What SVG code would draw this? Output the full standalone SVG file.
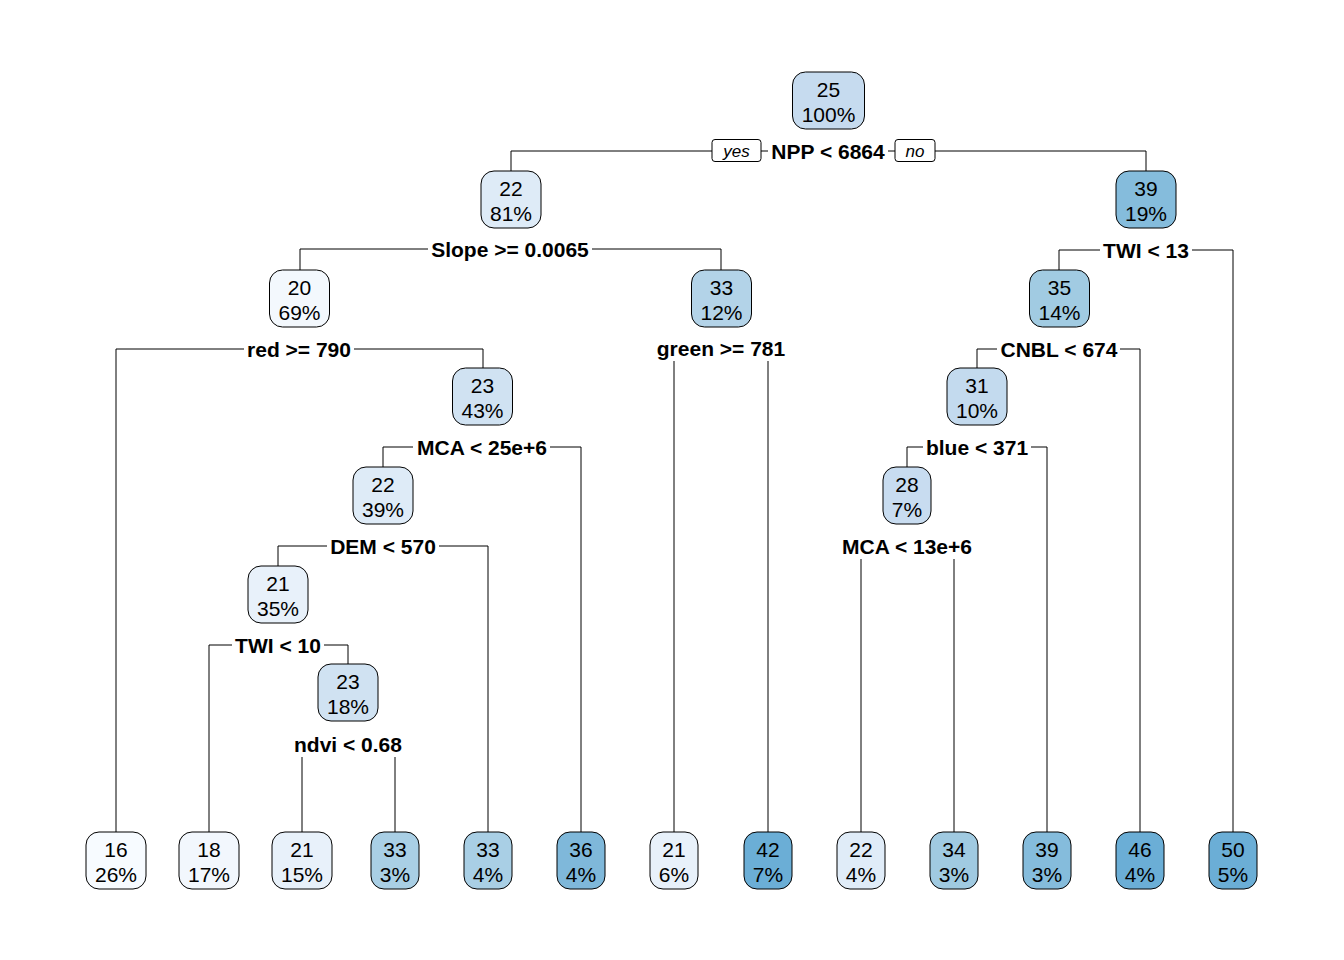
<svg xmlns="http://www.w3.org/2000/svg" width="1344" height="960" viewBox="0 0 1344 960">
<style>
.box{stroke:#000;stroke-width:1}
.t{font-family:"Liberation Sans",Arial,sans-serif;font-size:21px;text-anchor:middle;fill:#000}
.s{font-family:"Liberation Sans",Arial,sans-serif;font-size:21px;font-weight:bold;text-anchor:middle;fill:#000}
.yn{font-family:"Liberation Sans",Arial,sans-serif;font-size:17px;font-style:italic;text-anchor:middle;fill:#000}
.c{fill:none;stroke:#000;stroke-width:1}
</style>
<rect width="1344" height="960" fill="#fff"/>
<g id="connectors" class="c">
<path d="M511 171V151H712M761 151H768M888 151H895M935 151H1146V171"/>
<path d="M300 270V249H428M592 249H721V270"/>
<path d="M1059 270V250H1100M1192 250H1233V832"/>
<path d="M116 832V349H244M354 349H483V368"/>
<path d="M674 361V832M768 361V832"/>
<path d="M977 368V349H997M1120 349H1140V832"/>
<path d="M383 467V447H413M550 447H581V832"/>
<path d="M907 467V447H923M1031 447H1047V832"/>
<path d="M278 566V546H327M439 546H488V832"/>
<path d="M861 559V832M954 559V832"/>
<path d="M209 832V645H232M324 645H348V664"/>
<path d="M302 757V832M395 757V832"/>
</g>
<g id="yesno">
<rect x="712" y="139.5" width="49" height="22" rx="3" fill="#fff" class="box"/>
<text x="736.5" y="157" class="yn">yes</text>
<rect x="895" y="139.5" width="40" height="22" rx="3" fill="#fff" class="box"/>
<text x="915" y="157" class="yn">no</text>
</g>
<g id="n1"><rect x="792.5" y="72" width="72" height="57" rx="13" fill="#C6DBEF" class="box"/><text x="828.5" y="97" class="t">25</text><text x="828.5" y="122" class="t">100%</text><text x="828" y="158.5" class="s">NPP &lt; 6864</text></g>
<g id="n2"><rect x="481" y="171" width="60" height="57" rx="13" fill="#DEEBF7" class="box"/><text x="511" y="196" class="t">22</text><text x="511" y="221" class="t">81%</text><text x="510" y="256.5" class="s">Slope &gt;= 0.0065</text></g>
<g id="n3"><rect x="1116" y="171" width="60" height="57" rx="13" fill="#85BCDC" class="box"/><text x="1146" y="196" class="t">39</text><text x="1146" y="221" class="t">19%</text><text x="1146" y="257.5" class="s">TWI &lt; 13</text></g>
<g id="n4"><rect x="269.5" y="270" width="60" height="57" rx="13" fill="#F3F8FD" class="box"/><text x="299.5" y="295" class="t">20</text><text x="299.5" y="320" class="t">69%</text><text x="299" y="356.5" class="s">red &gt;= 790</text></g>
<g id="n5"><rect x="691.5" y="270" width="60" height="57" rx="13" fill="#B3D3E8" class="box"/><text x="721.5" y="295" class="t">33</text><text x="721.5" y="320" class="t">12%</text><text x="721" y="355.5" class="s">green &gt;= 781</text></g>
<g id="n6"><rect x="1029.5" y="270" width="60" height="57" rx="13" fill="#A1CBE2" class="box"/><text x="1059.5" y="295" class="t">35</text><text x="1059.5" y="320" class="t">14%</text><text x="1059" y="356.5" class="s">CNBL &lt; 674</text></g>
<g id="n7"><rect x="452.5" y="368" width="60" height="57" rx="13" fill="#D0E2F2" class="box"/><text x="482.5" y="393" class="t">23</text><text x="482.5" y="418" class="t">43%</text><text x="482" y="454.5" class="s">MCA &lt; 25e+6</text></g>
<g id="n8"><rect x="947" y="368" width="60" height="57" rx="13" fill="#C3DAEE" class="box"/><text x="977" y="393" class="t">31</text><text x="977" y="418" class="t">10%</text><text x="977" y="454.5" class="s">blue &lt; 371</text></g>
<g id="n9"><rect x="353" y="467" width="60" height="57" rx="13" fill="#DEEBF7" class="box"/><text x="383" y="492" class="t">22</text><text x="383" y="517" class="t">39%</text><text x="383" y="553.5" class="s">DEM &lt; 570</text></g>
<g id="n10"><rect x="883" y="467" width="48" height="57" rx="13" fill="#C8DCF0" class="box"/><text x="907" y="492" class="t">28</text><text x="907" y="517" class="t">7%</text><text x="907" y="553.5" class="s">MCA &lt; 13e+6</text></g>
<g id="n11"><rect x="248" y="566" width="60" height="57" rx="13" fill="#E8F1FA" class="box"/><text x="278" y="591" class="t">21</text><text x="278" y="616" class="t">35%</text><text x="278" y="652.5" class="s">TWI &lt; 10</text></g>
<g id="n12"><rect x="318" y="664" width="60" height="57" rx="13" fill="#D0E2F2" class="box"/><text x="348" y="689" class="t">23</text><text x="348" y="714" class="t">18%</text><text x="348" y="751.5" class="s">ndvi &lt; 0.68</text></g>
<g id="leaf1"><rect x="86" y="832" width="60" height="57" rx="13" fill="#F7FBFF" class="box"/><text x="116" y="857" class="t">16</text><text x="116" y="882" class="t">26%</text></g>
<g id="leaf2"><rect x="179" y="832" width="60" height="57" rx="13" fill="#F2F7FD" class="box"/><text x="209" y="857" class="t">18</text><text x="209" y="882" class="t">17%</text></g>
<g id="leaf3"><rect x="272" y="832" width="60" height="57" rx="13" fill="#E8F1FA" class="box"/><text x="302" y="857" class="t">21</text><text x="302" y="882" class="t">15%</text></g>
<g id="leaf4"><rect x="371" y="832" width="48" height="57" rx="13" fill="#A9CFE5" class="box"/><text x="395" y="857" class="t">33</text><text x="395" y="882" class="t">3%</text></g>
<g id="leaf5"><rect x="464" y="832" width="48" height="57" rx="13" fill="#A9CFE5" class="box"/><text x="488" y="857" class="t">33</text><text x="488" y="882" class="t">4%</text></g>
<g id="leaf6"><rect x="557" y="832" width="48" height="57" rx="13" fill="#7FB8DA" class="box"/><text x="581" y="857" class="t">36</text><text x="581" y="882" class="t">4%</text></g>
<g id="leaf7"><rect x="650" y="832" width="48" height="57" rx="13" fill="#E8F1FA" class="box"/><text x="674" y="857" class="t">21</text><text x="674" y="882" class="t">6%</text></g>
<g id="leaf8"><rect x="744" y="832" width="48" height="57" rx="13" fill="#6BAED6" class="box"/><text x="768" y="857" class="t">42</text><text x="768" y="882" class="t">7%</text></g>
<g id="leaf9"><rect x="837" y="832" width="48" height="57" rx="13" fill="#E0ECF8" class="box"/><text x="861" y="857" class="t">22</text><text x="861" y="882" class="t">4%</text></g>
<g id="leaf10"><rect x="930" y="832" width="48" height="57" rx="13" fill="#A0CAE1" class="box"/><text x="954" y="857" class="t">34</text><text x="954" y="882" class="t">3%</text></g>
<g id="leaf11"><rect x="1023" y="832" width="48" height="57" rx="13" fill="#85BCDC" class="box"/><text x="1047" y="857" class="t">39</text><text x="1047" y="882" class="t">3%</text></g>
<g id="leaf12"><rect x="1116" y="832" width="48" height="57" rx="13" fill="#6BAED6" class="box"/><text x="1140" y="857" class="t">46</text><text x="1140" y="882" class="t">4%</text></g>
<g id="leaf13"><rect x="1209" y="832" width="48" height="57" rx="13" fill="#6BAED6" class="box"/><text x="1233" y="857" class="t">50</text><text x="1233" y="882" class="t">5%</text></g>
</svg>
